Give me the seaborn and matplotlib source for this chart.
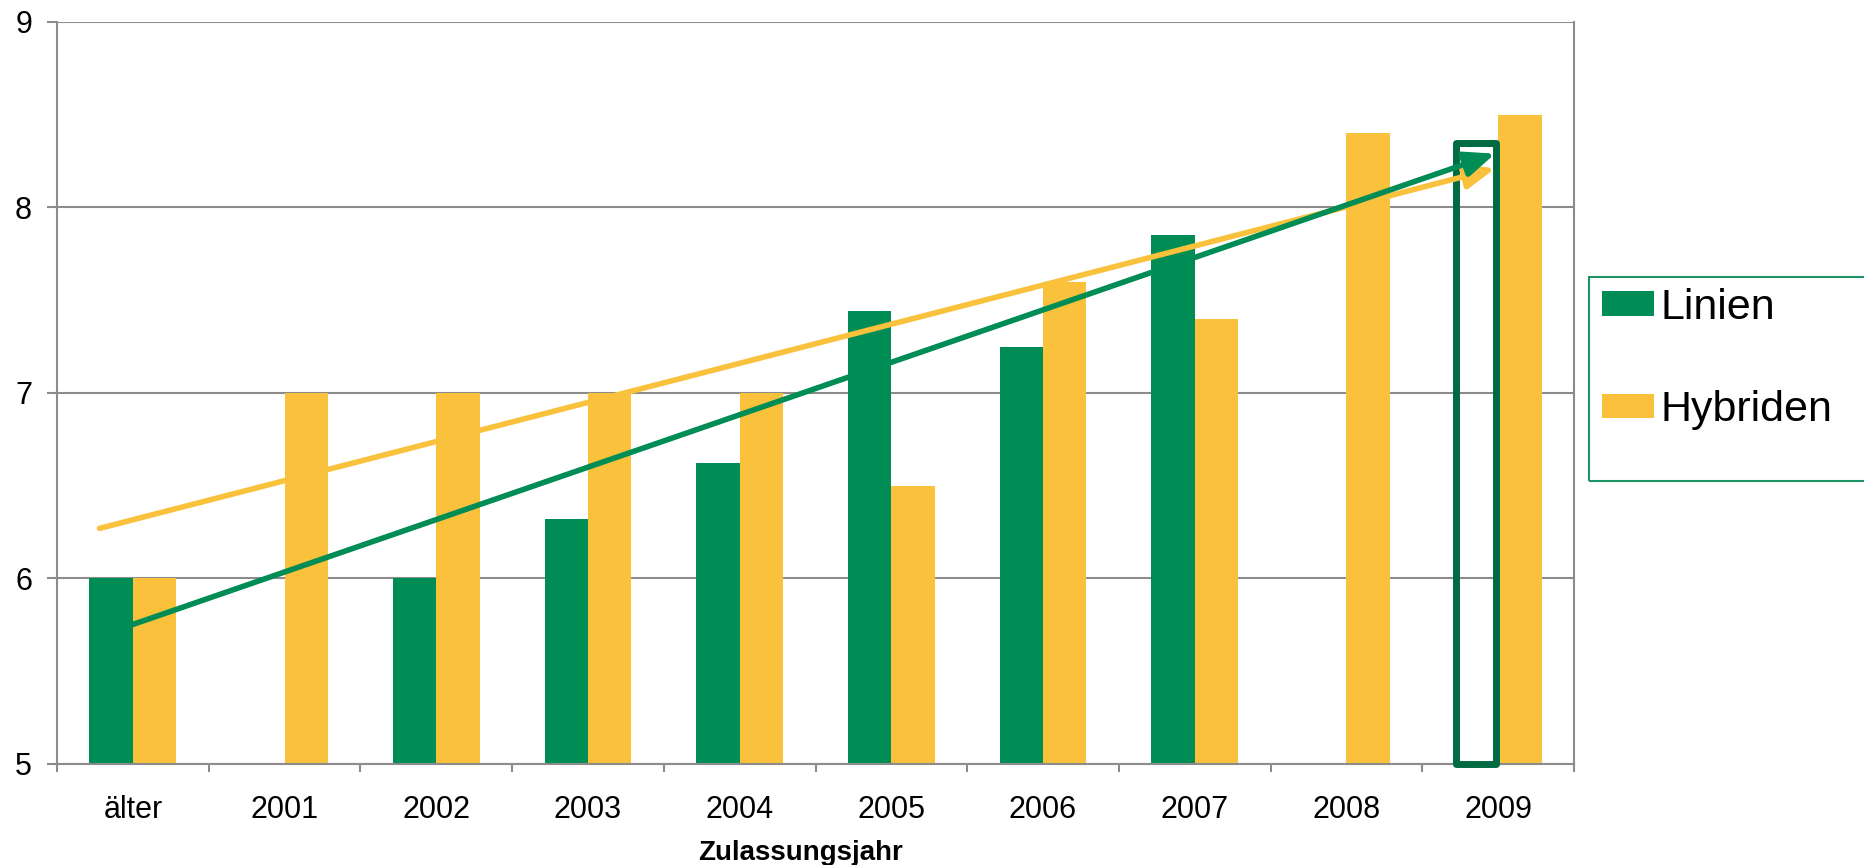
import numpy as np
import pandas as pd
import seaborn as sns
import matplotlib.pyplot as plt
from matplotlib.patches import Rectangle

# Werte
jahre = ["älter", "2001", "2002", "2003", "2004", "2005", "2006", "2007", "2008", "2009"]
linien = [6.0, np.nan, 6.0, 6.32, 6.62, 7.44, 7.25, 7.85, np.nan, np.nan]
hybriden = [6.0, 7.0, 7.0, 7.0, 7.0, 6.5, 7.6, 7.4, 8.4, 8.5]
linien_2009_rahmen = 8.35  # nur als Umriss gezeichnet

# Trendpfeile (x in Kategorie-Einheiten)
trend_x = [-0.22, 8.98]
trend_linien = [5.69, 8.29]
trend_hybriden = [6.27, 8.21]

gruen = "#008C55"
gelb = "#F9C13C"
dunkelgruen = "#006A42"
grau = "#8C8C8C"

df = pd.DataFrame({
    "Jahr": jahre * 2,
    "Wert": linien + hybriden,
    "Typ": ["Linien"] * len(jahre) + ["Hybriden"] * len(jahre),
})

sns.set_style("white")
plt.rcParams['font.family'] = ['Liberation Sans', 'DejaVu Sans']
plt.rcParams['text.color'] = 'black'

fig = plt.figure(figsize=(18.64, 8.65), dpi=100)
ax = fig.add_axes([0.0306, 0.1168, 0.8138, 0.8578])

sns.barplot(data=df, x="Jahr", y="Wert", hue="Typ", order=jahre,
            hue_order=["Linien", "Hybriden"], palette=[gruen, gelb],
            width=0.573, errorbar=None, saturation=1, linewidth=0, ax=ax)
handles, labels = ax.get_legend_handles_labels()
ax.legend_.remove()

# 2009 Linien: leerer Rahmen
bw = 0.573 / 2
ax.bar(9 - bw / 2, linien_2009_rahmen - 5, width=bw * 0.92, bottom=5,
       fill=False, edgecolor=dunkelgruen, lw=5, joinstyle="round",
       zorder=4, clip_on=False)

# Trendpfeile
for ys, c in [(trend_hybriden, gelb), (trend_linien, gruen)]:
    ax.annotate("", xy=(trend_x[1], ys[1]), xytext=(trend_x[0], ys[0]),
                arrowprops=dict(arrowstyle="-|>,head_length=1.8,head_width=0.75",
                                color=c, lw=4, shrinkA=0, shrinkB=0,
                                capstyle="round"),
                zorder=6)

ax.set_ylim(5, 9)
ax.set_xlim(-0.5, 9.5)
ax.set_yticks([5, 6, 7, 8, 9])
ax.yaxis.grid(True, color=grau, lw=1.5)
ax.set_axisbelow(True)

for s in ["left", "bottom", "right"]:
    ax.spines[s].set_color(grau)
    ax.spines[s].set_linewidth(1.5)
ax.spines["top"].set_visible(False)

ax.tick_params(axis="y", length=7, width=1.5, color=grau, labelcolor="black",
               labelsize=22, pad=11, left=True)
ax.tick_params(axis="x", which="major", length=0, labelcolor="black", labelsize=22, pad=22)
ax.set_xticks(np.arange(-0.5, 10, 1), minor=True)
ax.tick_params(axis="x", which="minor", length=6, width=1.5, color=grau, bottom=True)

ax.set_xlabel("Zulassungsjahr", fontsize=20, fontweight="bold", color="black")
ax.xaxis.set_label_coords(0.49, -0.103)
ax.set_ylabel("")

fig.legend(handles, labels, loc="upper left", bbox_to_anchor=(0.8594, 0.667),
           bbox_transform=fig.transFigure, frameon=False, fontsize=31,
           labelcolor="black", handlelength=1.2, handleheight=0.5, handletextpad=0.15,
           labelspacing=1.45, borderaxespad=0, borderpad=0)
fig.add_artist(Rectangle((1589 / 1864, 1 - 481 / 865), (1880 - 1589) / 1864, 204 / 865,
                         transform=fig.transFigure, fill=False, edgecolor="#1E9464",
                         lw=1.5, clip_on=False))

fig.savefig("out.png", dpi=100)
